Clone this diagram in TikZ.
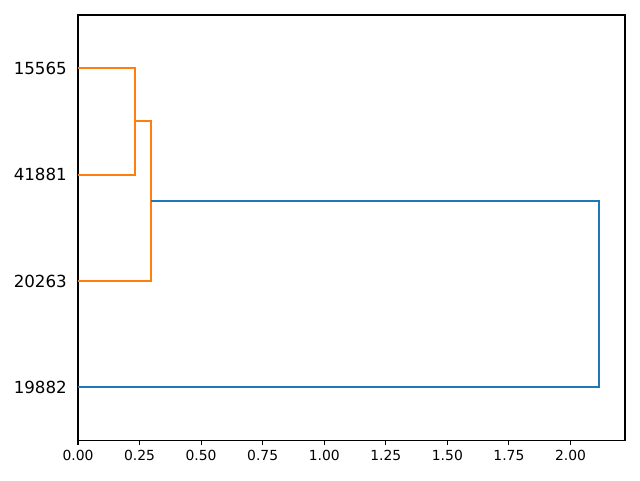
\documentclass[tikz,border=0pt]{standalone}
\usepackage{fontspec}
\setmainfont{DejaVu Sans}
\definecolor{mplblue}{HTML}{1F77B4}
\definecolor{mplorange}{HTML}{FF7F0E}
\tikzset{
  spine/.style={draw=black, line width=1.11pt},
  xtick/.style={draw=black, line width=1.11pt},
  link/.style={line width=2.08pt, line join=miter},
  ticklabel/.style={inner sep=0pt, font=\fontsize{13.89}{16}\selectfont},
  leaflabel/.style={inner sep=0pt, anchor=east, font=\fontsize{16.67}{20}\selectfont}
}
\begin{document}
\begin{tikzpicture}[x=1pt, y=-1pt]
\useasboundingbox (0,0) rectangle (640,480);
% axes frame
\draw[spine] (78,15) rectangle (625,440.5);
\foreach \v/\lab in {0/0.00, 0.25/0.25, 0.5/0.50, 0.75/0.75, 1/1.00, 1.25/1.25, 1.5/1.50, 1.75/1.75, 2/2.00} {
  \draw[xtick] ({78+\v*246.25},440.5) -- ++(0,4.86);
  \node[ticklabel, anchor=north] at ({78+\v*246.25},450.2) {\lab};
}
% leaves
\node[leaflabel] (l15565) at (67,68.2) {15565};
\node[leaflabel] (l41881) at (67,174.6) {41881};
\node[leaflabel] (l20263) at (67,281) {20263};
\node[leaflabel] (l19882) at (67,387.4) {19882};
\coordinate (p15565) at (78,68.2);
\coordinate (p41881) at (78,174.6);
\coordinate (p20263) at (78,281);
\coordinate (p19882) at (78,387.4);
% merges
\coordinate (m1) at (135.1,121.4);
\coordinate (m2) at (151,201.2);
\coordinate (m3) at (599,294.3);
\draw[link, mplorange] (p15565) -| (m1) |- (p41881);
\draw[link, mplorange] (m1) -| (m2) |- (p20263);
\draw[link, mplblue] (m2) -| (m3) |- (p19882);
\end{tikzpicture}
\end{document}
